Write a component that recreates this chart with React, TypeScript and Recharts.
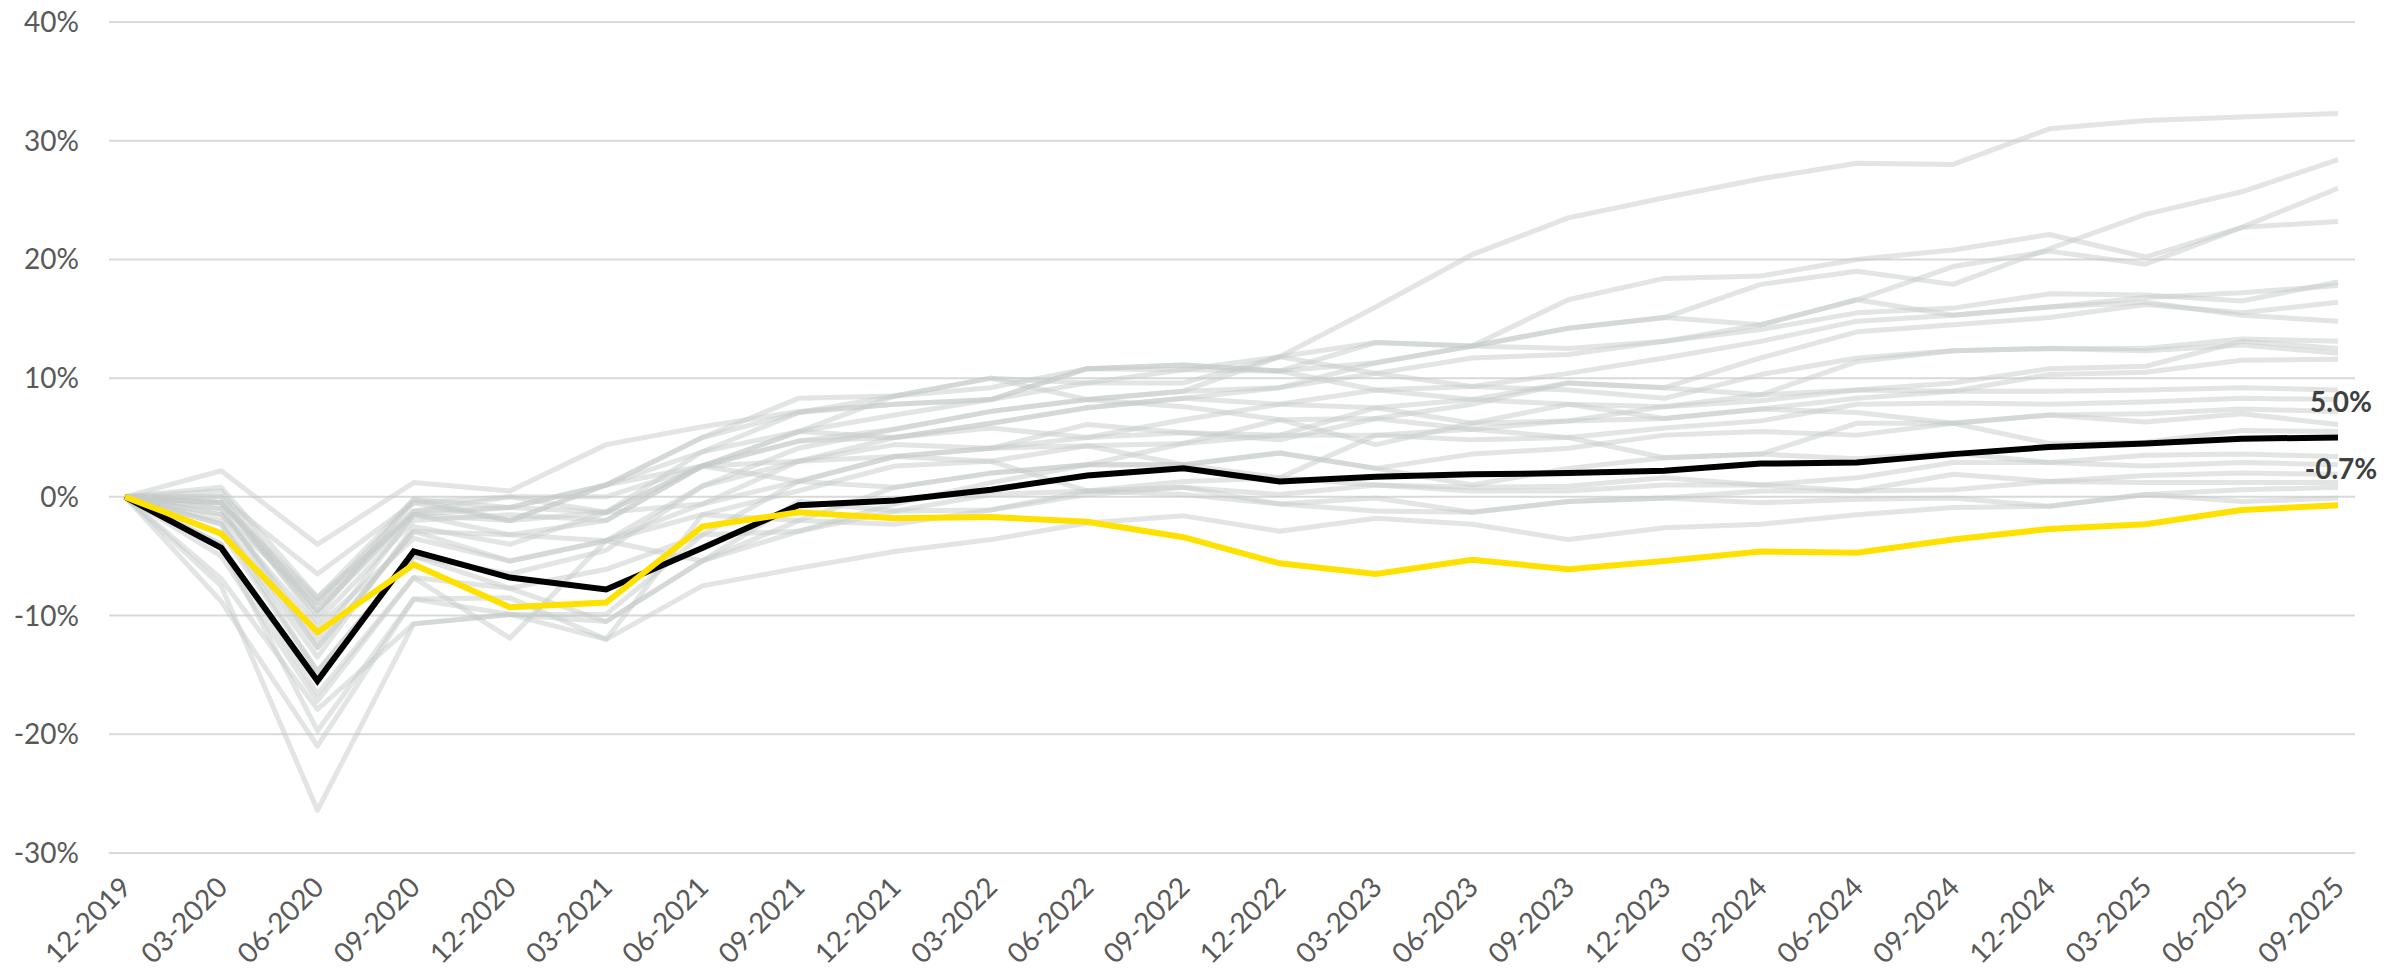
import { CartesianGrid, LabelList, Line, LineChart, XAxis, YAxis } from "recharts";

const periods = [
  "12-2019", "03-2020", "06-2020", "09-2020", "12-2020", "03-2021",
  "06-2021", "09-2021", "12-2021", "03-2022", "06-2022", "09-2022",
  "12-2022", "03-2023", "06-2023", "09-2023", "12-2023", "03-2024",
  "06-2024", "09-2024", "12-2024", "03-2025", "06-2025", "09-2025",
];

const yTicks = [-30, -20, -10, 0, 10, 20, 30, 40];

// cumulative change, % — black line
const average = [0, -4.3, -15.5, -4.6, -6.8, -7.8, -4.3, -0.7, -0.3, 0.6, 1.8, 2.4, 1.3, 1.7, 1.9, 2.0, 2.2, 2.8, 2.9, 3.6, 4.2, 4.5, 4.9, 5.0];
// highlighted entity — yellow line
const highlight = [0, -3.1, -11.4, -5.7, -9.3, -8.9, -2.5, -1.3, -1.8, -1.7, -2.1, -3.4, -5.6, -6.5, -5.3, -6.1, -5.4, -4.6, -4.7, -3.6, -2.7, -2.3, -1.1, -0.7];

// peers, grey
const peer01 = [0, -0.5, -9.6, -1.5, -0.9, 1.0, 3.8, 7.1, 7.8, 8.2, 9.6, 9.6, 11.8, 16.0, 20.4, 23.5, 25.2, 26.8, 28.1, 28.0, 31.0, 31.7, 32.0, 32.3];
const peer02 = [0, 0.8, -8.5, -0.2, -2.0, -1.3, 2.6, 5.5, 6.9, 8.2, 10.8, 11.1, 10.6, 11.3, 12.7, 14.2, 15.1, 17.9, 19.0, 17.9, 20.9, 23.8, 25.7, 28.4];
const peer03 = [0, -1.0, -12.7, -2.9, -3.2, -3.7, 0.9, 4.1, 5.7, 7.2, 8.2, 8.9, 9.2, 10.4, 11.7, 12.0, 13.1, 14.5, 16.6, 19.4, 20.7, 19.6, 22.7, 26.0];
const peer04 = [0, 0.0, -10.5, -2.0, -1.5, -2.0, 2.6, 4.7, 5.0, 6.2, 7.5, 8.3, 9.2, 11.3, 12.7, 16.6, 18.4, 18.6, 20.0, 20.8, 22.1, 20.2, 22.7, 23.2];
const peer05 = [0, -2.3, -13.5, -2.5, -4.0, -1.3, 2.6, 5.5, 8.5, 10.0, 9.6, 10.7, 11.8, 13.0, 12.7, 12.5, 13.1, 14.1, 15.5, 15.9, 17.1, 17.0, 16.5, 18.1];
const peer06 = [0, 0.5, -9.6, -1.2, -0.9, 1.0, 5.0, 7.1, 8.5, 9.2, 10.8, 10.7, 10.6, 9.0, 9.3, 10.4, 11.7, 13.1, 14.8, 15.3, 16.0, 16.8, 17.2, 17.8];
const peer07 = [0, -1.5, -11.0, -3.5, -5.4, -3.7, -0.6, 3.0, 5.0, 6.2, 7.5, 8.3, 7.8, 7.5, 8.2, 9.6, 9.2, 11.7, 13.9, 14.5, 15.1, 16.2, 15.5, 16.4];
const peer08 = [0, 2.2, -4.0, 1.2, 0.5, 4.4, 5.9, 7.2, 7.8, 8.2, 10.8, 11.1, 10.6, 13.0, 12.7, 14.2, 15.1, 14.5, 16.6, 15.3, 16.0, 16.4, 15.3, 14.8];
const peer09 = [0, -0.5, -8.9, -0.5, -2.0, 1.0, 5.0, 8.3, 8.5, 10.0, 8.2, 8.9, 11.8, 10.4, 9.3, 9.0, 8.3, 10.3, 11.7, 12.3, 12.5, 12.5, 13.3, 13.1];
const peer10 = [0, -3.0, -14.7, -5.0, -6.5, -4.5, 0.9, 3.0, 4.4, 4.1, 5.0, 6.5, 7.8, 9.0, 8.2, 7.8, 7.6, 8.6, 9.0, 9.6, 10.8, 11.0, 13.1, 12.5];
const peer11 = [0, -1.0, -12.1, -1.5, -3.2, -2.0, 2.6, 4.7, 5.7, 7.2, 8.2, 7.6, 6.5, 6.6, 7.8, 9.6, 9.2, 8.6, 11.4, 12.3, 12.5, 12.3, 12.8, 12.1];
const peer12 = [0, -4.0, -16.6, -6.8, -7.7, -6.1, -3.2, 1.3, 3.4, 4.1, 6.1, 5.4, 5.2, 7.5, 6.2, 6.4, 6.6, 7.4, 8.3, 8.9, 10.3, 10.5, 11.5, 11.6];
const peer13 = [0, -0.5, -10.0, -0.2, -0.9, -1.3, 3.8, 5.5, 5.0, 5.8, 5.0, 5.4, 4.8, 6.6, 5.7, 6.4, 7.6, 8.1, 9.0, 8.9, 8.9, 9.0, 9.2, 9.0];
const peer14 = [0, -2.0, -12.7, -2.9, -5.4, -3.7, -1.5, 0.5, 2.6, 3.0, 4.3, 4.5, 5.2, 5.2, 4.8, 5.0, 5.8, 6.4, 7.8, 7.9, 7.8, 8.0, 8.3, 8.2];
const peer15 = [0, -1.5, -9.0, -1.2, 0.0, 0.0, 2.6, 1.3, 0.8, 2.0, 2.7, 4.5, 6.5, 4.4, 6.2, 7.8, 6.6, 7.4, 7.1, 6.2, 6.9, 7.0, 7.4, 7.2];
const peer16 = [0, -5.0, -17.2, -6.8, -11.9, -3.7, -5.4, -2.0, 0.8, 2.0, 2.7, 2.7, 3.7, 2.4, 3.6, 4.1, 5.2, 5.5, 5.2, 6.2, 6.9, 6.3, 7.0, 6.1];
const peer17 = [0, -0.5, -8.5, -1.5, -2.0, 1.0, 2.6, 3.0, 3.4, 4.1, 4.3, 2.7, 1.6, 5.2, 5.7, 5.0, 3.3, 3.6, 6.2, 6.2, 4.5, 4.6, 5.6, 5.5];
const peer18 = [0, -6.9, -17.9, -10.7, -9.9, -9.9, -3.2, -2.9, -0.6, 1.2, 2.7, 2.7, 3.7, 2.4, 1.0, 2.4, 3.3, 3.6, 3.2, 3.7, 2.9, 3.5, 3.6, 3.4];
const peer19 = [0, -2.3, -14.7, -5.0, -7.7, -10.5, -5.4, -0.4, -1.2, 0.2, 0.5, 1.3, 1.6, 1.0, 0.8, 0.9, 1.6, 1.0, 1.6, 2.9, 2.9, 2.6, 2.9, 2.7];
const peer20 = [0, -8.8, -21.0, -8.6, -8.5, -12.0, -1.5, -2.0, -2.3, -1.1, 0.2, 0.8, 0.2, 1.0, 0.5, 0.5, 1.0, 1.0, 0.5, 1.9, 1.3, 1.8, 2.0, 1.9];
const peer21 = [0, -7.5, -26.4, -10.7, -9.9, -10.5, -5.4, -2.9, -1.2, -1.1, 0.5, 0.8, -0.6, -0.1, -1.3, -0.4, -0.1, 0.5, 0.5, 0.6, 1.3, 1.2, 1.2, 1.2];
const peer22 = [0, -4.0, -19.7, -8.6, -9.9, -12.0, -7.5, -6.0, -4.6, -3.6, -2.2, -1.6, -2.9, -1.8, -2.3, -3.6, -2.6, -2.3, -1.5, -0.9, -0.8, 0.2, 0.6, 0.8];
const peer23 = [0, 0.0, -6.5, -0.5, 0.0, -1.3, -0.6, 1.3, 3.4, 3.0, 0.5, 0.2, -0.6, -1.2, -1.3, -0.4, -0.1, -0.5, -0.2, -0.1, -0.8, 0.2, -0.4, -0.1];

const peers = [
  peer01, peer02, peer03, peer04, peer05, peer06, peer07, peer08,
  peer09, peer10, peer11, peer12, peer13, peer14, peer15, peer16,
  peer17, peer18, peer19, peer20, peer21, peer22, peer23,
];

const data = periods.map((period, i) => {
  const row: Record<string, string | number> = {
    period,
    average: average[i],
    highlight: highlight[i],
  };
  peers.forEach((s, k) => {
    row[`peer${k}`] = s[i];
  });
  return row;
});

const axisFont = "Lato, 'Open Sans', sans-serif";

const AngledTick = ({ x, y, payload }: { x?: number; y?: number; payload?: { value: string } }) => {
  const ax = (x ?? 0) + 8;
  const ay = (y ?? 0) + 36;
  return (
    <text
      x={ax}
      y={ay}
      transform={`rotate(-45, ${ax}, ${ay})`}
      textAnchor="end"
      fill="#595959"
      fontSize={28}
      fontFamily={axisFont}
    >
      {payload?.value}
    </text>
  );
};

const lastIndex = periods.length - 1;

const EndLabel = (props: { x?: number | string; y?: number | string; value?: number | string; index?: number }) => {
  if (props.index !== lastIndex) return null;
  const x = Number(props.x);
  const y = Number(props.y);
  return (
    <text
      x={x + 3}
      y={y - 26}
      textAnchor="middle"
      fill="#404040"
      fontSize={28}
      fontWeight="bold"
      fontFamily={axisFont}
    >
      {`${Number(props.value).toFixed(1)}%`}
    </text>
  );
};

export default function App() {
  return (
    <div style={{ margin: -8, width: 2407, height: 971, background: "#fff" }}>
      <LineChart
        width={2407}
        height={971}
        data={data}
        margin={{ top: 22, right: 52, left: 0, bottom: 0 }}
      >
        <CartesianGrid vertical={false} stroke="#d9d9d9" strokeWidth={2} />
        <XAxis
          dataKey="period"
          height={118}
          interval={0}
          tickLine={false}
          axisLine={false}
          tickSize={0}
          tickMargin={0}
          padding={{ left: 16, right: 17 }}
          tick={<AngledTick />}
        />
        <YAxis
          width={109}
          domain={[-30, 40]}
          ticks={yTicks}
          tickFormatter={(v: number) => `${v}%`}
          tickLine={false}
          axisLine={false}
          tickSize={0}
          tickMargin={30}
          tick={{ fill: "#595959", fontSize: 28, fontFamily: axisFont }}
        />
        {peers.map((_, k) => (
          <Line
            key={k}
            dataKey={`peer${k}`}
            stroke="#c5cbc9"
            strokeOpacity={0.5}
            strokeWidth={5}
            strokeLinejoin="round"
            dot={false}
            activeDot={false}
            isAnimationActive={false}
          />
        ))}
        <Line
          dataKey="average"
          stroke="#000000"
          strokeWidth={6}
          dot={false}
          isAnimationActive={false}
        >
          <LabelList dataKey="average" content={EndLabel} />
        </Line>
        <Line
          dataKey="highlight"
          stroke="#ffe100"
          strokeWidth={6}
          dot={false}
          isAnimationActive={false}
        >
          <LabelList dataKey="highlight" content={EndLabel} />
        </Line>
      </LineChart>
    </div>
  );
}
